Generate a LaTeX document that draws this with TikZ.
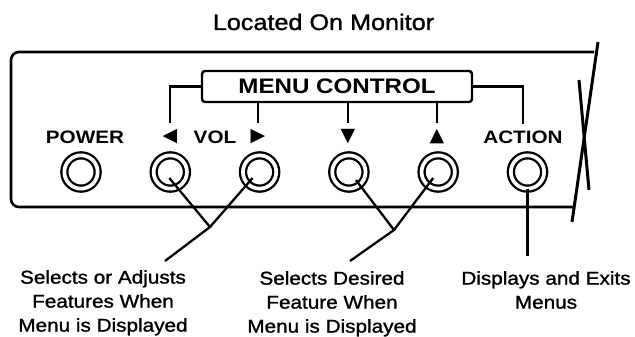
\documentclass[tikz,border=0pt]{standalone}
\usepackage{fontspec}
\usetikzlibrary{positioning}
\newfontfamily\panelfont[FakeStretch=1.15]{Liberation Sans}
\newfontfamily\notefont[FakeStretch=1.12,FakeBold=1.3]{Liberation Sans}
\newfontfamily\symfont{DejaVu Sans}
\tikzset{
  button/.style={circle,draw,double,line width=2.3pt,double distance=3.7pt,
    minimum size=33.3pt,inner sep=0pt,outer sep=0pt},
  key/.style={font=\panelfont\bfseries\fontsize{18}{18}\selectfont,inner sep=0pt,anchor=base},
  arrowkey/.style={font=\symfont\fontsize{19}{19}\selectfont,inner sep=0pt},
  note/.style={font=\notefont\fontsize{18.5}{24}\selectfont,align=center,inner sep=0pt,anchor=north},
  wire/.style={line width=2.3pt,shorten >=6pt},
  lead/.style={line width=2.3pt},
  panel/.style={line width=2.6pt,rounded corners=8pt},
  brk/.style={line width=3pt}
}

\begin{document}
\begin{tikzpicture}[x=1pt,y=-1pt]
                   \useasboundingbox (0,0) rectangle (635,337);
                   \node[font=\notefont\fontsize{22.5}{22.5}\selectfont,anchor=base] (title) at (323.5,30) {Located On Monitor};
                   % monitor front, broken off on the right
                   \draw[panel] (594,52) -- (11,52) -- (11,207) -- (574,207);
                   \draw[brk] (598,42) -- (572,222);
                   \draw[brk] (579,80) -- (589,190);
                   % buttons
                   \node[button] (b_power) at (81,172) {};
                   \node[button] (b_left) [right=56pt of b_power] {};
                   \node[button] (b_right) [right=56pt of b_left] {};
                   \node[button] (b_down) [right=56pt of b_right] {};
                   \node[button] (b_up) [right=56pt of b_down] {};
                   \node[button] (b_action) [right=56pt of b_up] {};
                   % labels
                   \node[key] (l_power) at (85,143) {POWER};
                   \node[key] (l_vol) at (215,143) {VOL};
                   \node[key] (l_action) at (523,143) {ACTION};
                   \node[arrowkey] (l_left) at (170,136.5) {◀};
                   \node[arrowkey] (l_right) at (258,136.5) {▶};
                   \node[arrowkey] (l_down) at (348,136.5) {▼};
                   \node[arrowkey] (l_up) at (437,136.5) {▲};
                   \node[draw,line width=2.4pt,rounded corners=3pt,minimum width=270pt,minimum height=31pt,
                     font=\panelfont\bfseries\fontsize{21}{21}\selectfont] (menu) at (337,86.5) {MENU CONTROL};
                    \draw[wire] (menu.west) -| (l_left.north);
                    \draw[wire] (menu.east) -| (l_action.north);
                    \draw[wire] (l_right |- menu.south) -- (l_right.north);
                    \draw[wire] (l_down |- menu.south) -- (l_down.north);
                    \draw[wire] (l_up |- menu.south) -- (l_up.north);
                   % notes and leaders
                   \node[note] (n_vol) at (103,270) {Selects or Adjusts\\Features When\\Menu is Displayed};
                   \node[note] (n_select) at (332,271) {Selects Desired\\Feature When\\Menu is Displayed};
                   \node[note] (n_action) at (546,271) {Displays and Exits\\Menus};
                   \coordinate (j_vol) at (210,227);
                   \coordinate (j_select) at (394,230);
                    \draw[lead] ([shift={(-1,6)}]b_left.center) -- (j_vol) -- ([shift={(62,-9)}]n_vol.north);
                    \draw[lead] ([shift={(-7,6)}]b_right.center) -- (j_vol);
                    \draw[lead] ([shift={(7,8)}]b_down.center) -- (j_select) -- ([shift={(18,-10)}]n_select.north);
                    \draw[lead] ([shift={(-5,6)}]b_up.center) -- (j_select);
                    \draw[lead,shorten >=15pt] (b_action.south) -- (b_action.south |- n_action.north);
                \end{tikzpicture}
\end{document}
